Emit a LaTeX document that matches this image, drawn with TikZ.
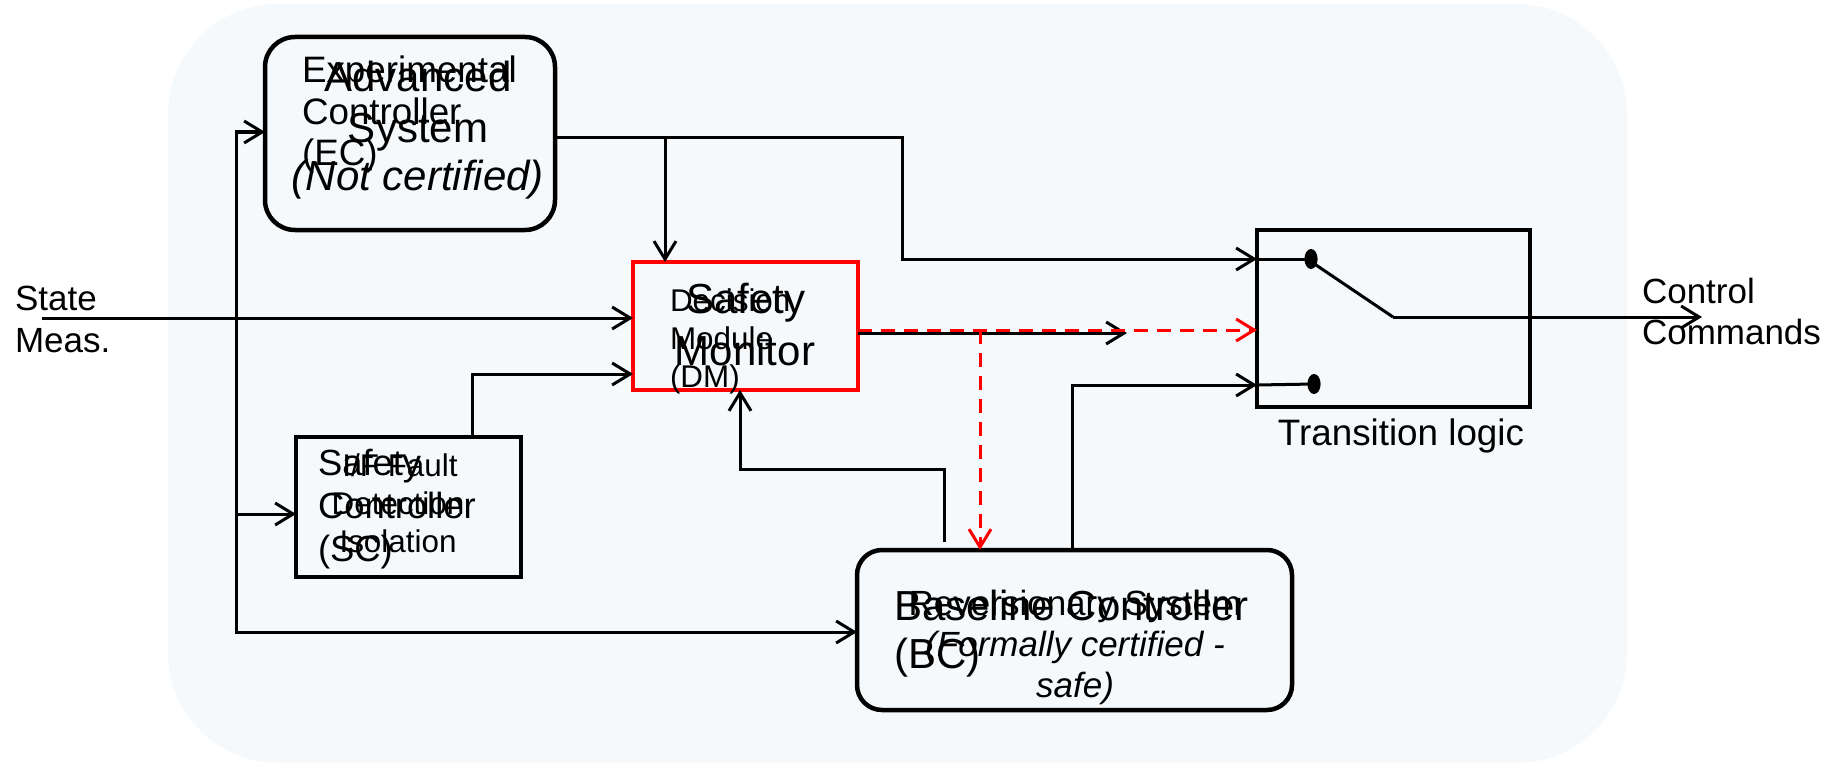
\documentclass[tikz,border=0pt]{standalone}
\usepackage{fontspec}
\setmainfont{Liberation Sans}
\usetikzlibrary{arrows.meta,calc}
\definecolor{bgc}{RGB}{246,249,251}
\definecolor{myred}{RGB}{255,0,0}
\begin{document}
\begin{tikzpicture}[x=0.5pt,y=-0.5pt,
  box/.style={draw, line width=2.25pt, inner sep=0pt, outer sep=0pt},
  wire/.style={line width=1.5pt},
  conn/.style={line width=1.5pt, -{Straight Barb[length=9pt,width=11pt]}},
  rconn/.style={myred, line width=1.5pt, dash pattern=on 7pt off 4.5pt, -{Straight Barb[length=9pt,width=11pt]}},
  txt/.style={inner sep=0pt, outer sep=0pt},
  fa/.style={txt, font=\fontsize{17.5}{20}\selectfont},
  fb/.style={txt, font=\fontsize{18.4}{21}\selectfont},
  fc/.style={txt, font=\fontsize{21}{24}\selectfont},
  fd/.style={txt, font=\fontsize{15.7}{18}\selectfont},
  fe/.style={txt, font=\fontsize{18.2}{21}\selectfont}]
\useasboundingbox (0,0) rectangle (1835,765);
\fill[bgc, rounded corners=55pt] (168,4) rectangle (1627,763);

% boxes
\node[box, rounded corners=15pt, minimum width=145pt, minimum height=96.5pt] (ec) at (410,133.5) {};
\node[box, draw=myred, minimum width=112.5pt, minimum height=64pt] (dm) at (745.5,326) {};
\node[box, minimum width=112.5pt, minimum height=70pt] (sc) at (408.5,507) {};
\node[box, rounded corners=12.5pt, minimum width=217.5pt, minimum height=80pt] (bc) at (1074.5,630) {};
\node[box, minimum width=136.5pt, minimum height=88.5pt] (tl) at (1393.5,318.5) {};

% texts
\node[fa, anchor=base west] (st1) at (15,310) {State};
\node[fa, anchor=base west] (st2) at (15,352) {Meas.};
\node[fa, anchor=base west] (cc1) at (1642,303) {Control};
\node[fa, anchor=base west] (cc2) at (1642,344) {Commands};
\node[fb, anchor=base] (tlt) at (1401,445) {Transition logic};

\node[fb, anchor=base west] (ex1) at (302,83) {Experimental};
\node[fb, anchor=base west] (ex2) at (302,125) {Controller};
\node[fb, anchor=base west] (ex3) at (302,165) {(EC)};
\node[fc, anchor=base] (ad1) at (418,92) {Advanced};
\node[fc, anchor=base] (ad2) at (418,142) {System};
\node[fc, anchor=base] (ad3) at (418,190) {\itshape (Not certified)};

\node[fc, anchor=base] (sm1) at (746,313) {Safety};
\node[fc, anchor=base] (sm2) at (745,365) {Monitor};
\node[fd, anchor=base west] (de1) at (670,311) {Decision};
\node[fd, anchor=base west] (de2) at (670,349) {Module};
\node[fd, anchor=base west] (de3) at (670,387) {(DM)};

\node[fe, anchor=base west] (sa1) at (318,475) {Safety};
\node[fe, anchor=base west] (sa2) at (318,518) {Controller};
\node[fe, anchor=base west] (sa3) at (318,561) {(SC)};
\node[fd, anchor=base] (fd1) at (400,476) {I/F Fault};
\node[fd, anchor=base] (fd2) at (398,514) {Detection};
\node[fd, anchor=base] (fd3) at (398,552) {Isolation};

\node[fc, anchor=base west] (bl1) at (894,620) {Baseline Controller};
\node[fc, anchor=base west] (bl2) at (894,668) {(BC)};
\node[fa, anchor=base] (rv1) at (1075,615) {Reversionary System};
\node[fa, anchor=base] (rv2) at (1075,656) {\itshape (Formally certified -};
\node[fa, anchor=base] (rv3) at (1075,697) {\itshape safe)};

% state input
\coordinate (sin) at (42,318);
\draw[conn] (sin) -- (sin -| dm.west);

% bus
\coordinate (bt) at (236,132);
\coordinate (bs) at (236,514);
\coordinate (bb) at (236,632);
\draw[conn] (bb) -- (bt) -- (bt -| ec.west);
\draw[conn] (bt) -- (bb) -- (bb -| bc.west);
\draw[conn] (bs) -- (bs -| sc.west);

% EC outputs
\coordinate (e1) at (665,137);
\coordinate (e2) at (902,137);
\coordinate (e3) at (902,259);
\draw[conn] (ec.east |- e1) -- (e1) -- (e1 |- dm.north);
\draw[conn] (ec.east |- e2) -- (e2) -- (e3) -- (e3 -| tl.west);

% SC -> DM
\coordinate (s1) at (472,374);
\draw[conn] (sc.north -| s1) -- (s1) -- (s1 -| dm.west);

% BC -> DM
\coordinate (b2) at (944,469);
\coordinate (b3) at (740,469);
\draw[conn] ($(bc.north -| b2)+(0,-8)$) -- (b2) -- (b3) -- (b3 |- dm.south);

% BC -> TL
\coordinate (c1) at (1072,385);
\draw[conn] (bc.north -| c1) -- (c1) -- (c1 -| tl.west);

% DM outputs
\coordinate (d1) at (1127,333);
\draw[conn] (dm.east |- d1) -- (d1);
\coordinate (r1) at (980,330);
\draw[rconn] (dm.east |- r1) -- (r1 -| tl.west);
\draw[rconn] (r1) -- (r1 |- bc.north);

% switch inside transition logic
\coordinate (sw1) at (1311,259);
\coordinate (sw2) at (1314,384);
\coordinate (sw3) at (1393,317);
\coordinate (out) at (1702,317);
\draw[wire] (e3 -| tl.west) -- (sw1);
\fill (sw1) ellipse [x radius=3.3pt, y radius=5pt];
\draw[wire] ($(sw1)+(2,4)$) -- (sw3);
\draw[conn] (sw3) -- (out);
\draw[wire] (c1 -| tl.west) -- (sw2);
\fill (sw2) ellipse [x radius=3.3pt, y radius=5pt];
\end{tikzpicture}
\end{document}
